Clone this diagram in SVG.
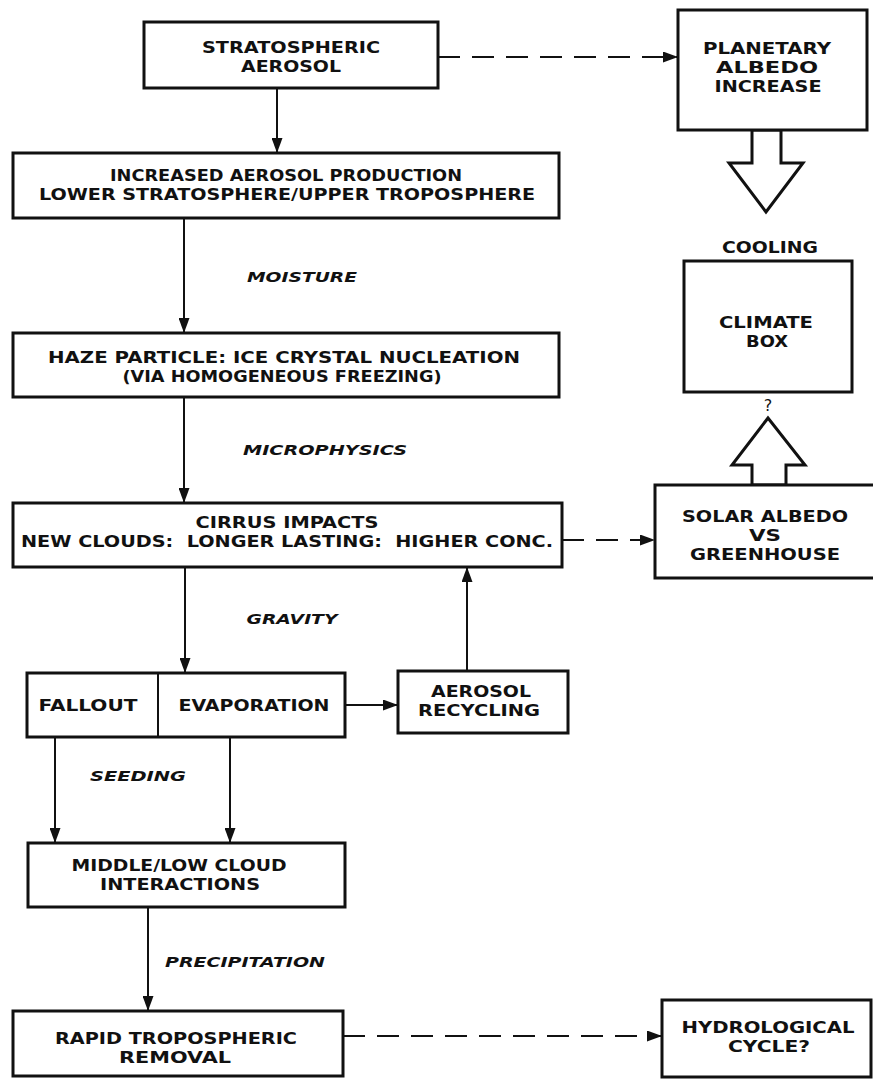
<svg xmlns="http://www.w3.org/2000/svg" width="873" height="1079" viewBox="0 0 873 1079">
<style>
.box{fill:#fff;stroke:#111;stroke-width:3}
.t{font-family:"DejaVu Sans","Liberation Sans",sans-serif;font-weight:bold;font-size:16px;fill:#111;text-anchor:middle}
.l{font-family:"DejaVu Sans","Liberation Sans",sans-serif;font-weight:bold;font-style:italic;font-size:14px;fill:#111;text-anchor:middle}
.c{fill:none;stroke:#111;stroke-width:2}
.d{fill:none;stroke:#111;stroke-width:2;stroke-dasharray:22 12}
.h{fill:#fff;stroke:#111;stroke-width:3;stroke-linejoin:miter}
</style>
<defs>
<marker id="ah" markerUnits="userSpaceOnUse" markerWidth="15" markerHeight="11" refX="15" refY="5.5" orient="auto">
<path d="M0,0 L15,5.5 L0,11 z" fill="#111"/>
</marker>
</defs>
<rect width="873" height="1079" fill="#fff"/>
<g id="connectors">
<line class="c" x1="277" y1="88" x2="277" y2="153" marker-end="url(#ah)"/>
<line class="d" x1="438" y1="57" x2="678" y2="57" marker-end="url(#ah)"/>
<line class="c" x1="184" y1="218" x2="184" y2="333" marker-end="url(#ah)"/>
<line class="c" x1="184" y1="397" x2="184" y2="503" marker-end="url(#ah)"/>
<line class="c" x1="185" y1="567" x2="185" y2="673" marker-end="url(#ah)"/>
<line class="d" x1="562" y1="540" x2="655" y2="540" marker-end="url(#ah)"/>
<line class="c" x1="345" y1="705" x2="398" y2="705" marker-end="url(#ah)"/>
<line class="c" x1="467" y1="671" x2="467" y2="567" marker-end="url(#ah)"/>
<line class="c" x1="55" y1="737" x2="55" y2="843" marker-end="url(#ah)"/>
<line class="c" x1="230" y1="737" x2="230" y2="843" marker-end="url(#ah)"/>
<line class="c" x1="148" y1="907" x2="148" y2="1011" marker-end="url(#ah)"/>
<line class="d" x1="343" y1="1036" x2="662" y2="1036" marker-end="url(#ah)"/>
<polygon class="h" points="752,130 752,163 729,163 766,212 803,163 781,163 781,130"/>
<polygon class="h" points="752,485 752,465 732,465 768,418 805,465 786,465 786,485"/>
<text class="l" x="302" y="282" textLength="110" lengthAdjust="spacingAndGlyphs">MOISTURE</text>
<text class="l" x="325" y="455" textLength="164" lengthAdjust="spacingAndGlyphs">MICROPHYSICS</text>
<text class="l" x="292" y="624" textLength="91" lengthAdjust="spacingAndGlyphs">GRAVITY</text>
<text class="l" x="138" y="781" textLength="96" lengthAdjust="spacingAndGlyphs">SEEDING</text>
<text class="l" x="245" y="967" textLength="160" lengthAdjust="spacingAndGlyphs">PRECIPITATION</text>
<text class="t" x="768" y="411" style="font-size:16px;font-weight:normal">?</text>
</g>
<g id="n-strat">
<rect class="box" x="144" y="22" width="294" height="66"/>
<text class="t" x="291" y="53" textLength="178" lengthAdjust="spacingAndGlyphs">STRATOSPHERIC</text>
<text class="t" x="291" y="72" textLength="100" lengthAdjust="spacingAndGlyphs">AEROSOL</text>
</g>
<g id="n-increased">
<rect class="box" x="13" y="153" width="546" height="65"/>
<text class="t" x="286" y="181" textLength="352" lengthAdjust="spacingAndGlyphs">INCREASED AEROSOL PRODUCTION</text>
<text class="t" x="287" y="200" textLength="496" lengthAdjust="spacingAndGlyphs">LOWER STRATOSPHERE/UPPER TROPOSPHERE</text>
</g>
<g id="n-haze">
<rect class="box" x="13" y="333" width="546" height="64"/>
<text class="t" x="284" y="363" textLength="472" lengthAdjust="spacingAndGlyphs">HAZE PARTICLE: ICE CRYSTAL NUCLEATION</text>
<text class="t" x="282" y="382" textLength="319" lengthAdjust="spacingAndGlyphs">(VIA HOMOGENEOUS FREEZING)</text>
</g>
<g id="n-cirrus">
<rect class="box" x="13" y="503" width="549" height="64"/>
<text class="t" x="287" y="528" textLength="183" lengthAdjust="spacingAndGlyphs">CIRRUS IMPACTS</text>
<text class="t" x="287" y="547" textLength="532" lengthAdjust="spacingAndGlyphs" xml:space="preserve">NEW CLOUDS:  LONGER LASTING:  HIGHER CONC.</text>
</g>
<g id="n-fallout">
<rect class="box" x="27" y="673" width="318" height="64"/>
<line x1="158" y1="673" x2="158" y2="737" stroke="#111" stroke-width="2"/>
<text class="t" x="88" y="711" textLength="99" lengthAdjust="spacingAndGlyphs">FALLOUT</text>
<text class="t" x="254" y="711" textLength="151" lengthAdjust="spacingAndGlyphs">EVAPORATION</text>
</g>
<g id="n-recycling">
<rect class="box" x="398" y="671" width="170" height="62"/>
<text class="t" x="481" y="697" textLength="100" lengthAdjust="spacingAndGlyphs">AEROSOL</text>
<text class="t" x="479" y="716" textLength="122" lengthAdjust="spacingAndGlyphs">RECYCLING</text>
</g>
<g id="n-middle">
<rect class="box" x="28" y="843" width="317" height="64"/>
<text class="t" x="179" y="871" textLength="215" lengthAdjust="spacingAndGlyphs">MIDDLE/LOW CLOUD</text>
<text class="t" x="180" y="890" textLength="160" lengthAdjust="spacingAndGlyphs">INTERACTIONS</text>
</g>
<g id="n-rapid">
<rect class="box" x="13" y="1011" width="330" height="65"/>
<text class="t" x="176" y="1044" textLength="242" lengthAdjust="spacingAndGlyphs">RAPID TROPOSPHERIC</text>
<text class="t" x="175" y="1063" textLength="112" lengthAdjust="spacingAndGlyphs">REMOVAL</text>
</g>
<g id="n-planetary">
<rect class="box" x="678" y="10" width="189" height="120"/>
<text class="t" x="767" y="54" textLength="128" lengthAdjust="spacingAndGlyphs">PLANETARY</text>
<text class="t" x="767" y="73" textLength="102" lengthAdjust="spacingAndGlyphs">ALBEDO</text>
<text class="t" x="768" y="92" textLength="107" lengthAdjust="spacingAndGlyphs">INCREASE</text>
</g>
<g id="n-climate">
<text class="t" x="770" y="253" textLength="96" lengthAdjust="spacingAndGlyphs">COOLING</text>
<rect class="box" x="684" y="261" width="168" height="131"/>
<text class="t" x="766" y="328" textLength="94" lengthAdjust="spacingAndGlyphs">CLIMATE</text>
<text class="t" x="767" y="347" textLength="42" lengthAdjust="spacingAndGlyphs">BOX</text>
</g>
<g id="n-solar">
<rect class="box" x="655" y="485" width="222" height="93"/>
<text class="t" x="765" y="522" textLength="166" lengthAdjust="spacingAndGlyphs">SOLAR ALBEDO</text>
<text class="t" x="765" y="541" textLength="32" lengthAdjust="spacingAndGlyphs">VS</text>
<text class="t" x="765" y="560" textLength="150" lengthAdjust="spacingAndGlyphs">GREENHOUSE</text>
</g>
<g id="n-hydro">
<rect class="box" x="662" y="1000" width="209" height="77"/>
<text class="t" x="768" y="1033" textLength="173" lengthAdjust="spacingAndGlyphs">HYDROLOGICAL</text>
<text class="t" x="769" y="1052" textLength="82" lengthAdjust="spacingAndGlyphs">CYCLE?</text>
</g>
</svg>
